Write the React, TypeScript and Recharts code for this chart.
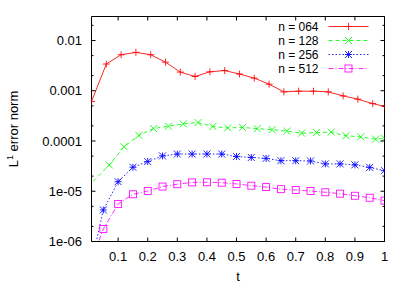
import React from 'react';
import { LineChart, Line, XAxis, YAxis } from 'recharts';

// ---------- data ----------
const tRed = [0.01, 0.06, 0.11, 0.16, 0.21, 0.26, 0.31, 0.36, 0.41, 0.46, 0.51, 0.56, 0.61, 0.66, 0.71, 0.76, 0.81, 0.86, 0.91, 0.96, 1.0];
const vRed = [6.1e-4, 3.4e-3, 5.2e-3, 5.8e-3, 5.2e-3, 3.7e-3, 2.35e-3, 1.92e-3, 2.38e-3, 2.52e-3, 2.15e-3, 1.78e-3, 1.35e-3, 9.5e-4, 9.8e-4, 9.8e-4, 9.5e-4, 7.9e-4, 6.8e-4, 5.55e-4, 4.9e-4];

const tGreen = [0.0, 0.07, 0.12, 0.17, 0.22, 0.27, 0.32, 0.37, 0.42, 0.47, 0.52, 0.57, 0.62, 0.67, 0.72, 0.77, 0.82, 0.87, 0.92, 0.97, 1.0];
const vGreen = [1.25e-5, 3.34e-5, 7.7e-5, 1.29e-4, 1.77e-4, 1.97e-4, 2.19e-4, 2.33e-4, 1.94e-4, 1.82e-4, 1.86e-4, 1.76e-4, 1.68e-4, 1.58e-4, 1.43e-4, 1.47e-4, 1.5e-4, 1.27e-4, 1.21e-4, 1.09e-4, 1.13e-4];

const tBlue = [0.0, 0.05, 0.1, 0.15, 0.2, 0.25, 0.3, 0.35, 0.4, 0.45, 0.5, 0.55, 0.6, 0.65, 0.7, 0.75, 0.8, 0.85, 0.9, 0.95, 1.0];
const vBlue = [2e-7, 4.24e-6, 1.55e-5, 3.0e-5, 3.9e-5, 5.05e-5, 5.5e-5, 5.5e-5, 5.5e-5, 5.5e-5, 4.9e-5, 4.7e-5, 4.5e-5, 4.05e-5, 4.05e-5, 4.0e-5, 3.5e-5, 3.5e-5, 3.35e-5, 2.98e-5, 2.57e-5];

const tMagenta = [0.0, 0.05, 0.1, 0.15, 0.2, 0.25, 0.3, 0.35, 0.4, 0.45, 0.5, 0.55, 0.6, 0.65, 0.7, 0.75, 0.8, 0.85, 0.9, 0.95, 1.0];
const vMagenta = [2.9e-7, 1.77e-6, 5.6e-6, 8.7e-6, 1.01e-5, 1.24e-5, 1.38e-5, 1.5e-5, 1.51e-5, 1.48e-5, 1.4e-5, 1.29e-5, 1.21e-5, 1.1e-5, 1.06e-5, 1.01e-5, 9.55e-6, 8.96e-6, 8.13e-6, 7.42e-6, 6.5e-6];

const seriesNames = ['n = 064', 'n = 128', 'n = 256', 'n = 512'];

const xTicks = [0.1, 0.2, 0.3, 0.4, 0.5, 0.6, 0.7, 0.8, 0.9, 1];
const xTickLabels = ['0.1', '0.2', '0.3', '0.4', '0.5', '0.6', '0.7', '0.8', '0.9', '1'];
const yMajorTicks = [1e-6, 1e-5, 1e-4, 1e-3, 1e-2];
const yMajorLabels = ['1e-06', '1e-05', '0.0001', '0.001', '0.01'];
const yMinorTicks = [2e-6, 5e-6, 2e-5, 5e-5, 2e-4, 5e-4, 2e-3, 5e-3, 2e-2];

const X_DOMAIN: [number, number] = [0.01, 1];
const Y_DOMAIN: [number, number] = [1e-6, 0.03];

// ---------- layout / style ----------
const W = 409;
const H = 286;
// axes take 1px each; plot frame: x 91.5..384.5, y 16.5..241.5
const MARGIN = { top: 15.5, right: 23.5, bottom: 43.5, left: 90.5 };
const FONT = 'Liberation Sans, Arial, Helvetica, sans-serif';
const FS = 13;
const LW = 0.85;

const STYLES = [
  { color: '#ff0000', dash: undefined as string | undefined, marker: 'plus' },
  { color: '#00ff00', dash: '4 3', marker: 'cross' },
  { color: '#0000ff', dash: '1.5 2', marker: 'star' },
  { color: '#ff00ff', dash: '5 2 1 2', marker: 'square' },
];

const toData = (ts: number[], vs: number[]) => ts.map((t, i) => ({ t, v: vs[i] }));
const SERIES = [
  toData(tRed, vRed),
  toData(tGreen, vGreen),
  toData(tBlue, vBlue),
  toData(tMagenta, vMagenta),
];

function Marker({ kind, cx, cy, color }: { kind: string; cx: number; cy: number; color: string }) {
  const s = 3.5;
  const plus = `M${cx - s},${cy}H${cx + s}M${cx},${cy - s}V${cy + s}`;
  const cross = `M${cx - s},${cy - s}L${cx + s},${cy + s}M${cx - s},${cy + s}L${cx + s},${cy - s}`;
  if (kind === 'plus') return <path d={plus} stroke={color} strokeWidth={LW} fill="none" />;
  if (kind === 'cross') return <path d={cross} stroke={color} strokeWidth={LW} fill="none" />;
  if (kind === 'star') return <path d={plus + cross} stroke={color} strokeWidth={LW} fill="none" />;
  return <rect x={cx - s} y={cy - s} width={2 * s} height={2 * s} stroke={color} strokeWidth={LW} fill="none" />;
}

const makeDot = (kind: string, color: string) => (p: any) => {
  const key = `${kind}-${p.index}`;
  const d = p.payload;
  if (!d || d.t < X_DOMAIN[0] - 1e-9 || d.v < Y_DOMAIN[0]) return <g key={key} />;
  return (
    <g key={key}>
      <Marker kind={kind} cx={p.cx} cy={p.cy} color={color} />
    </g>
  );
};

const MAJ = 4;
const MIN = 2;

function LeftTick(props: any) {
  const { x, y, payload } = props;
  const i = yMajorTicks.indexOf(payload.value);
  const len = i >= 0 ? MAJ : MIN;
  return (
    <g>
      <line x1={x} y1={y} x2={x + len} y2={y} stroke="#000" strokeWidth={1} />
      {i >= 0 && (
        <text x={x - 9.5} y={y + 4.6} textAnchor="end" fontFamily={FONT} fontSize={FS} fill="#000">
          {yMajorLabels[i]}
        </text>
      )}
    </g>
  );
}

function RightTick(props: any) {
  const { x, y, payload } = props;
  const i = yMajorTicks.indexOf(payload.value);
  const len = i >= 0 ? MAJ : MIN;
  return <line x1={x} y1={y} x2={x - len} y2={y} stroke="#000" strokeWidth={1} />;
}

function BottomTick(props: any) {
  const { x, y, payload } = props;
  const i = xTicks.indexOf(payload.value);
  return (
    <g>
      <line x1={x} y1={y} x2={x} y2={y - MAJ} stroke="#000" strokeWidth={1} />
      <text x={x} y={y + 19.7} textAnchor="middle" fontFamily={FONT} fontSize={FS} fill="#000">
        {xTickLabels[i]}
      </text>
    </g>
  );
}

function TopTick(props: any) {
  const { x, y } = props;
  return <line x1={x} y1={y} x2={x} y2={y + MAJ} stroke="#000" strokeWidth={1} />;
}

function Decorations() {
  const rowY = [26.5, 40.5, 54.5, 68.5];
  const LFS = 12;
  return (
    <g>
      {/* y label */}
      <text
        x={17.5}
        y={129}
        transform="rotate(-90 17.5 129)"
        textAnchor="middle"
        fontFamily={FONT}
        fontSize={FS}
        fill="#000"
      >
        L<tspan dy={-5} fontSize={9}>1</tspan>
        <tspan dy={5}> error norm</tspan>
      </text>
      {/* x label */}
      <text x={238} y={280.5} textAnchor="middle" fontFamily={FONT} fontSize={FS} fill="#000">
        t
      </text>
      {/* legend */}
      {seriesNames.map((name, i) => (
        <g key={name}>
          <text x={318.5} y={rowY[i] + 4.2} textAnchor="end" fontFamily={FONT} fontSize={LFS} fill="#000">
            {name}
          </text>
          <line
            x1={328.5}
            y1={rowY[i]}
            x2={368.5}
            y2={rowY[i]}
            stroke={STYLES[i].color}
            strokeWidth={LW}
            strokeDasharray={STYLES[i].dash}
          />
          <Marker kind={STYLES[i].marker} cx={348.5} cy={rowY[i]} color={STYLES[i].color} />
        </g>
      ))}
    </g>
  );
}

export default function App() {
  return (
    <div style={{ position: 'absolute', left: 0, top: 0, width: W, height: H, background: '#fff' }}>
      <LineChart width={W} height={H} margin={MARGIN}>
        <XAxis
          xAxisId="B"
          dataKey="t"
          type="number"
          domain={X_DOMAIN}
          allowDataOverflow
          ticks={xTicks}
          interval={0}
          height={1}
          tickSize={0}
          tickMargin={0}
          tickLine={false}
          axisLine={{ stroke: '#000', strokeWidth: 1 }}
          tick={<BottomTick />}
        />
        <XAxis
          xAxisId="T"
          orientation="top"
          dataKey="t"
          type="number"
          domain={X_DOMAIN}
          allowDataOverflow
          ticks={xTicks}
          interval={0}
          height={1}
          tickSize={0}
          tickMargin={0}
          tickLine={false}
          axisLine={{ stroke: '#000', strokeWidth: 1 }}
          tick={<TopTick />}
        />
        <YAxis
          yAxisId="L"
          type="number"
          scale="log"
          domain={Y_DOMAIN}
          allowDataOverflow
          ticks={[...yMajorTicks, ...yMinorTicks]}
          interval={0}
          width={1}
          tickSize={0}
          tickMargin={0}
          tickLine={false}
          axisLine={{ stroke: '#000', strokeWidth: 1 }}
          tick={<LeftTick />}
        />
        <YAxis
          yAxisId="R"
          orientation="right"
          type="number"
          scale="log"
          domain={Y_DOMAIN}
          allowDataOverflow
          ticks={[...yMajorTicks, ...yMinorTicks]}
          interval={0}
          width={1}
          tickSize={0}
          tickMargin={0}
          tickLine={false}
          axisLine={{ stroke: '#000', strokeWidth: 1 }}
          tick={<RightTick />}
        />
        {SERIES.map((data, i) => (
          <Line
            key={seriesNames[i]}
            name={seriesNames[i]}
            data={data}
            dataKey="v"
            xAxisId="B"
            yAxisId="L"
            type="linear"
            stroke={STYLES[i].color}
            strokeWidth={LW}
            strokeDasharray={STYLES[i].dash}
            dot={makeDot(STYLES[i].marker, STYLES[i].color)}
            activeDot={false}
            isAnimationActive={false}
          />
        ))}
        <Decorations />
      </LineChart>
    </div>
  );
}
